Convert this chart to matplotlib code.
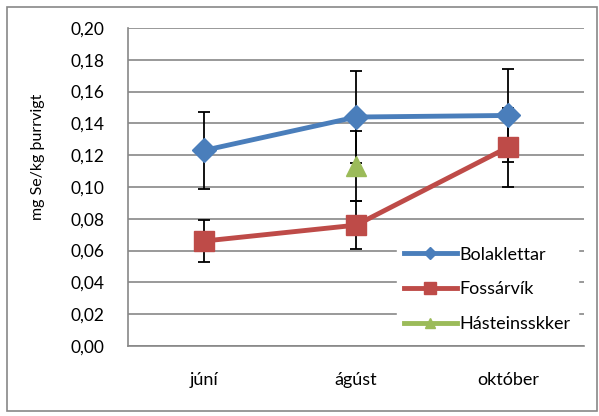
import matplotlib.pyplot as plt
from matplotlib.lines import Line2D
from matplotlib.patches import Rectangle

plt.rcParams['font.family'] = ['Lato', 'DejaVu Sans']

manudir = ['júní', 'ágúst', 'október']

# Bolaklettar
bola = [0.123, 0.144, 0.145]
bola_err = [0.024, 0.029, 0.029]
# Fossárvík
foss = [0.066, 0.076, 0.125]
foss_err = [0.013, 0.015, 0.025]
# Hásteinsskker (bara ágúst)
hast_x = [1]
hast = [0.113]
hast_err = [0.022]

blar = '#4A7EBB'
raudur = '#BE4B48'
graenn = '#9BBB59'

fig = plt.figure(figsize=(5.99, 4.16), dpi=100)
ax = fig.add_axes([128/599, 1 - 346/416, 456/599, 318/416])

x = list(range(len(manudir)))

ax.errorbar(x, bola, yerr=bola_err, fmt='none', ecolor='black', elinewidth=1.3, capsize=4.5, capthick=1.3, zorder=3)
ax.errorbar(x, foss, yerr=foss_err, fmt='none', ecolor='black', elinewidth=1.3, capsize=4.5, capthick=1.3, zorder=3)
ax.errorbar(hast_x, hast, yerr=hast_err, fmt='none', ecolor='black', elinewidth=1.3, capsize=4.5, capthick=1.3, zorder=3)

ax.plot(x, bola, color=blar, lw=3.5, marker='D', markersize=12, zorder=4)
ax.plot(x, foss, color=raudur, lw=3.5, marker='s', markersize=14, zorder=4)
ax.plot(hast_x, hast, color=graenn, lw=3.5, marker='^', markersize=14, zorder=4)

ax.set_xlim(-0.5, 2.5)
ax.set_ylim(0, 0.2)
yt = [i * 0.02 for i in range(11)]
ax.set_yticks(yt)
ax.set_yticklabels([f'{v:.2f}'.replace('.', ',') for v in yt], fontsize=12.5)
ax.set_xticks(x)
ax.set_xticklabels(manudir, fontsize=13)
ax.tick_params(axis='y', length=0, pad=17)
ax.tick_params(axis='x', length=0, pad=19)
ax.grid(axis='y', color='#878787', lw=1.2)
ax.set_axisbelow(True)
for s in ['top', 'right']:
    ax.spines[s].set_visible(False)
for s in ['left', 'bottom']:
    ax.spines[s].set_color('#878787')
    ax.spines[s].set_linewidth(1.2)

handles = [
    Line2D([], [], color=blar, lw=3.5, marker='D', markersize=6),
    Line2D([], [], color=raudur, lw=3.5, marker='s', markersize=8),
    Line2D([], [], color=graenn, lw=3.5, marker='^', markersize=7),
]
ax.legend(handles, ['Bolaklettar', 'Fossárvík', 'Hásteinsskker'], loc='lower left',
          bbox_to_anchor=(0.59, 0.02), frameon=True, framealpha=1, edgecolor='white',
          fancybox=False, fontsize=13, handlelength=2.9, handletextpad=0.15,
          labelspacing=1.05, borderaxespad=0, borderpad=0.4)

fig.text(38/599, 1 - 157/416, 'mg Se/kg þurrvigt', rotation=90, fontsize=11.5,
         ha='center', va='center')

fig.patches.append(Rectangle((7/599, 1 - 411/416), 590/599, 404/416, transform=fig.transFigure,
                             fill=False, edgecolor='#878787', lw=1.2))

fig.savefig('out.png', dpi=100)
